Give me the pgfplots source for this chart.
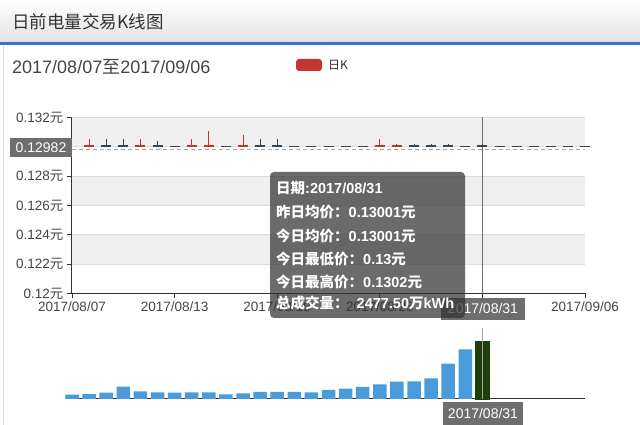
\documentclass[border=0pt]{standalone}
\usepackage{fontspec}
\setmainfont{Liberation Sans}
\newfontfamily\cjk{Noto Sans CJK SC}
\usepackage{pgfplots}
\pgfplotsset{compat=1.18}
\definecolor{axisc}{HTML}{333333}
\definecolor{labelc}{HTML}{444444}
\definecolor{bandc}{HTML}{EFEFEF}
\definecolor{gridc}{HTML}{DCDCDC}
\definecolor{upc}{HTML}{C23531}
\definecolor{downc}{HTML}{314656}
\definecolor{barc}{HTML}{4A9BDC}
\definecolor{hilc}{HTML}{213D0B}
\definecolor{ptrc}{HTML}{6E6E6E}
\definecolor{tipc}{HTML}{323232}
\definecolor{hdrc}{HTML}{E2E2E2}
\definecolor{bluel}{HTML}{3478C0}
\definecolor{dashc}{HTML}{A5A5A5}
\begin{document}
\begin{tikzpicture}
\path[use as bounding box] (0pt,0pt) rectangle (640pt,425pt);
% header
\shade[top color=white, bottom color=hdrc] (0pt,383pt) rectangle (640pt,425pt);
\fill[bluel] (0pt,380pt) rectangle (640pt,383pt);
\draw[gridc, line width=1pt] (3pt,0pt) -- (3pt,380pt);
\node[anchor=west, text=axisc, font=\fontsize{17.5}{20}\selectfont\cjk, inner sep=0pt] at (12pt,403pt) {日前电量交易K线图};
\node[anchor=west, text=labelc, font=\fontsize{18}{20}\selectfont, inner sep=0pt] at (12pt,358pt) {2017/08/07{\cjk 至}2017/09/06};
\fill[upc, rounded corners=3pt] (296pt,354pt) rectangle (322pt,366pt);
\node[anchor=west, text=axisc, font=\fontsize{12}{14}\selectfont\cjk, inner sep=0pt] at (328pt,360pt) {日K};

% price axis
\begin{axis}[
  at={(72pt,131.5pt)}, anchor=south west,
  scale only axis, width=513pt, height=176pt,
  xmin=0, xmax=30, ymin=0.12, ymax=0.132,
  axis x line=bottom, axis y line=left,
  axis line style={-, draw=axisc, line width=1pt},
  xtick={0,6,12,18,24,30},
  xticklabels={2017/08/07,2017/08/13,2017/08/19,2017/08/25,2017/08/31,2017/09/06},
  ytick={0.12,0.122,0.124,0.126,0.128,0.13,0.132},
  yticklabels={0.12{\cjk 元},0.122{\cjk 元},0.124{\cjk 元},0.126{\cjk 元},0.128{\cjk 元},0.13{\cjk 元},0.132{\cjk 元}},
  tick style={draw=axisc, line width=0.8pt},
  major tick length=5pt, tick align=outside,
  ticklabel style={font=\fontsize{13.5}{15}\selectfont, text=labelc},
  scaled y ticks=false,
  clip=false,
]
% alternating bands
\addplot[draw=none, fill=bandc] coordinates {(0,0.130) (30,0.130) (30,0.132) (0,0.132)};
\addplot[draw=none, fill=bandc] coordinates {(0,0.126) (30,0.126) (30,0.128) (0,0.128)};
\addplot[draw=none, fill=bandc] coordinates {(0,0.122) (30,0.122) (30,0.124) (0,0.124)};
% grid lines
\addplot[gridc, line width=0.7pt] coordinates {(0,0.122) (30,0.122)};
\addplot[gridc, line width=0.7pt] coordinates {(0,0.124) (30,0.124)};
\addplot[gridc, line width=0.7pt] coordinates {(0,0.126) (30,0.126)};
\addplot[gridc, line width=0.7pt] coordinates {(0,0.128) (30,0.128)};
\addplot[gridc, line width=0.7pt] coordinates {(0,0.130) (30,0.130)};
\addplot[gridc, line width=0.7pt] coordinates {(0,0.132) (30,0.132)};
% dashed reference line
\addplot[dashc, line width=0.8pt, dash pattern=on 4pt off 3pt] coordinates {(0,0.12982) (30,0.12982)};
% crosshair
\addplot[ptrc, line width=0.8pt] coordinates {(24,0.12) (24,0.132)};
% up candles
\addplot[upc, only marks, mark=-, mark size=5pt, mark options={line width=1.6pt, solid},
  error bars/.cd, y dir=plus, y explicit, error mark=none,
  error bar style={upc, line width=0.9pt}]
  coordinates {
  (1,0.13006) +- (0,0.00049)
  (4,0.13006) +- (0,0.00044)
  (7,0.13006) +- (0,0.00044)
  (8,0.13006) +- (0,0.00099)
  (10,0.13006) +- (0,0.00074)
  (18,0.13006) +- (0,0.00049)
  (19,0.13006) +- (0,0.00014)
  };
% down candles with wicks
\addplot[downc, only marks, mark=-, mark size=5pt, mark options={line width=1.6pt, solid},
  error bars/.cd, y dir=plus, y explicit, error mark=none,
  error bar style={downc, line width=0.9pt}]
  coordinates {
  (2,0.13006) +- (0,0.00049)
  (3,0.13006) +- (0,0.00044)
  (5,0.13006) +- (0,0.00034)
  (11,0.13006) +- (0,0.00044)
  (12,0.13006) +- (0,0.00049)
  (20,0.13006) +- (0,0.00014)
  (21,0.13006) +- (0,0.00014)
  (22,0.13006) +- (0,0.00014)
  (24,0.13006) +- (0,0.00014)
  };
% flat candles
\addplot[downc, only marks, mark=-, mark size=5pt, mark options={line width=1.3pt, solid}]
  coordinates {(6,0.13004) (9,0.13004) (13,0.13004) (14,0.13004) (15,0.13004) (16,0.13004)
  (17,0.13004) (23,0.13004) (25,0.13004) (26,0.13004) (27,0.13004) (28,0.13004) (29,0.13004) (30,0.13004)};
\end{axis}

% volume axis
\begin{axis}[
  at={(72pt,26pt)}, anchor=south west,
  scale only axis, width=513pt, height=71pt,
  xmin=0, xmax=30, ymin=0, ymax=3017.5,
  axis x line=bottom, axis y line=none,
  axis line style={-, draw=axisc, line width=1pt},
  xtick=\empty, ytick=\empty,
  clip=false,
]
\addplot[ybar, bar shift=0pt, bar width=13.5pt, fill=barc, draw=none] coordinates {
(0,184) (1,212) (2,269) (3,524) (4,326) (5,283) (6,269) (7,283) (8,283) (9,198)
(10,241) (11,298) (12,298) (13,298) (14,283) (15,383) (16,439) (17,510) (18,623)
(19,737) (20,751) (21,878) (22,1501) (23,2111)};
\addplot[ybar, bar shift=0pt, bar width=13.5pt, fill=hilc, draw=hilc!70!green!60!black] coordinates {(24,2477.5)};
\addplot[dashc, line width=0.8pt] coordinates {(24,0) (24,3017.5)};
\end{axis}

% axis pointer labels
\fill[ptrc] (10pt,268pt) rectangle (72pt,287pt);
\node[text=white, font=\fontsize{14}{16}\selectfont, inner sep=0pt] at (41pt,277.5pt) {0.12982};
\fill[ptrc] (441pt,105pt) rectangle (525pt,127pt);
\node[text=white, font=\fontsize{14}{16}\selectfont, inner sep=0pt] at (483pt,116pt) {2017/08/31};
\fill[ptrc] (443pt,0pt) rectangle (523pt,23pt);
\node[text=white, font=\fontsize{14}{16}\selectfont, inner sep=0pt] at (483pt,12pt) {2017/08/31};

% tooltip
\fill[tipc, fill opacity=0.72, rounded corners=4pt] (270pt,107pt) rectangle (465pt,253pt);
\begin{scope}[every node/.style={anchor=west, text=white, font=\fontsize{14.5}{17}\selectfont\bfseries, inner sep=0pt}]
\node at (276pt,237pt) {{\cjk\bfseries 日期}:2017/08/31};
\node at (276pt,213pt) {{\cjk\bfseries 昨日均价：}0.13001{\cjk\bfseries 元}};
\node at (276pt,189pt) {{\cjk\bfseries 今日均价：}0.13001{\cjk\bfseries 元}};
\node at (276pt,166pt) {{\cjk\bfseries 今日最低价：}0.13{\cjk\bfseries 元}};
\node at (276pt,143pt) {{\cjk\bfseries 今日最高价：}0.1302{\cjk\bfseries 元}};
\node at (276pt,122pt) {{\cjk\bfseries 总成交量：}\hspace{8pt}2477.50{\cjk\bfseries 万}kWh};
\end{scope}
\end{tikzpicture}
\end{document}
